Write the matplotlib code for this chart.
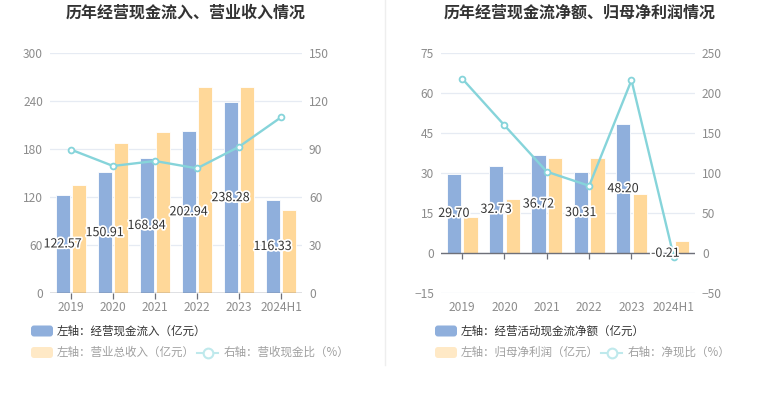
import matplotlib
matplotlib.use("Agg")
import matplotlib.pyplot as plt
import matplotlib.patheffects as pe
from matplotlib.patches import FancyBboxPatch
from matplotlib.lines import Line2D
import numpy as np

plt.rcParams["font.family"] = ["Noto Sans CJK SC", "DejaVu Sans"]

years = ["2019", "2020", "2021", "2022", "2023", "2024H1"]

# left chart
cash_in = [122.57, 150.91, 168.84, 202.94, 238.28, 116.33]
revenue = [135.0, 187.5, 201.6, 257.0, 258.0, 104.0]
cash_rev_ratio = [89.6, 79.4, 82.5, 77.9, 91.4, 109.8]

# right chart
net_cash = [29.70, 32.73, 36.72, 30.31, 48.20, -0.21]
net_profit = [13.4, 20.3, 35.6, 35.5, 22.1, 4.4]
net_cash_ratio = [218.0, 159.5, 101.6, 84.0, 216.0, -5.0]

BLUE = "#8fafdc"
ORANGE = "#ffd899"
LINE = "#86d4da"
GRID = "#e6ebf3"
AXIS = "#6e7079"
TICK = "#8c8c8c"

W, H = 765, 393
fig = plt.figure(figsize=(W / 100, H / 100), dpi=100)


def px_axes(x0, x1, y0, y1):
    return fig.add_axes([x0 / W, 1 - y1 / H, (x1 - x0) / W, (y1 - y0) / H])


def draw(ax, bars1, bars2, line, ylim, yticks, rylim, rticks, zero_frac):
    x = np.arange(len(years))
    w = 0.335
    ax.bar(x - 0.198, bars1, w, color=BLUE, edgecolor="white", linewidth=0.6, zorder=2)
    ax.bar(x + 0.198, bars2, w, color=ORANGE, edgecolor="white", linewidth=0.6, zorder=2)
    ax.set_xlim(-0.5, len(years) - 0.5)
    ax.set_ylim(*ylim)
    ax.set_yticks(yticks)
    ax.set_xticks(x)
    ax.set_xticklabels(years)
    ax.grid(axis="y", color=GRID, linewidth=0.9, zorder=0)
    for s in ax.spines.values():
        s.set_visible(False)
    ax.axhline(0, color=AXIS, linewidth=1.0, zorder=3)
    ax.tick_params(axis="both", length=0, colors=TICK, labelsize=8.6, pad=5)
    ax.tick_params(axis="x", pad=6)

    # tick marks on the zero line
    sec = ax.secondary_xaxis(zero_frac)
    sec.set_xticks(x)
    sec.set_xticklabels([])
    sec.spines["bottom"].set_visible(False)
    sec.tick_params(direction="out", length=4, width=0.9, color=AXIS)

    ax2 = ax.twinx()
    ax2.plot(x, line, color=LINE, linewidth=1.7, marker="o", markersize=4.2,
             markerfacecolor="white", markeredgecolor=LINE, markeredgewidth=1.3, zorder=5)
    ax2.set_ylim(*rylim)
    ax2.set_yticks(rticks)
    for s in ax2.spines.values():
        s.set_visible(False)
    ax2.tick_params(axis="y", length=0, colors=TICK, labelsize=8.6, pad=5)

    for xi, v in zip(x, bars1):
        ax2.text(xi - 0.198, v / 2, f"{v:.2f}", transform=ax.transData, ha="center",
                 va="center", fontsize=9, color="#333333", zorder=8,
                 path_effects=[pe.withStroke(linewidth=2.5, foreground="white")])
    return ax2


ax_l = px_axes(50, 302, 53, 293)
draw(ax_l, cash_in, revenue, cash_rev_ratio, (0, 300), [0, 60, 120, 180, 240, 300],
     (0, 150), [0, 30, 60, 90, 120, 150], 0.0)

ax_r = px_axes(441, 695, 53, 293)
draw(ax_r, net_cash, net_profit, net_cash_ratio, (-15, 75), [-15, 0, 15, 30, 45, 60, 75],
     (-50, 250), [-50, 0, 50, 100, 150, 200, 250], 15 / 90)

# titles
fig.text(186 / W, 1 - 13 / H, "历年经营现金流入、营业收入情况", ha="center", va="center",
         fontsize=11.5, fontweight="bold", color="#333333")
fig.text(580 / W, 1 - 13 / H, "历年经营现金流净额、归母净利润情况", ha="center", va="center",
         fontsize=11.5, fontweight="bold", color="#333333")

# separator
fig.add_artist(Line2D([384.5 / W, 384.5 / W], [1, 1 - 365 / H], color="#eeeeee", linewidth=1))

T = fig.dpi_scale_trans


def patch(x0, yc, color):
    fig.add_artist(FancyBboxPatch(((x0) / 100, (H - yc - 5.5) / 100), 0.22, 0.11,
                                  boxstyle="round,pad=0,rounding_size=0.03",
                                  facecolor=color, edgecolor="none", transform=T))


def label(x0, yc, s, color):
    fig.text(x0 / 100, (H - yc) / 100, s, transform=T, ha="left", va="center",
             fontsize=8.3, color=color)


def line_marker(x0, yc):
    yy = (H - yc) / 100
    fig.add_artist(Line2D([x0 / 100, (x0 + 21) / 100], [yy, yy], transform=T,
                          color="#bfe9ec", linewidth=1.5))
    fig.add_artist(Line2D([(x0 + 10.5) / 100], [yy], transform=T, marker="o",
                          markersize=7, markerfacecolor="white", markeredgecolor="#bfe9ec",
                          markeredgewidth=1.5))


for x0, t1, t2, t3, lx, tx in [
    (31, "左轴：经营现金流入（亿元）", "左轴：营业总收入（亿元）", "右轴：营收现金比（%）", 197, 224),
    (435, "左轴：经营活动现金流净额（亿元）", "左轴：归母净利润（亿元）", "右轴：净现比（%）", 601, 628),
]:
    patch(x0, 331, BLUE)
    label(x0 + 26, 331, t1, "#333333")
    patch(x0, 352.5, "#ffe9c6")
    label(x0 + 26, 352.5, t2, "#a0a0a0")
    line_marker(lx, 352.5)
    label(tx, 352.5, t3, "#a0a0a0")

fig.savefig("out.png", dpi=100, facecolor="white")
